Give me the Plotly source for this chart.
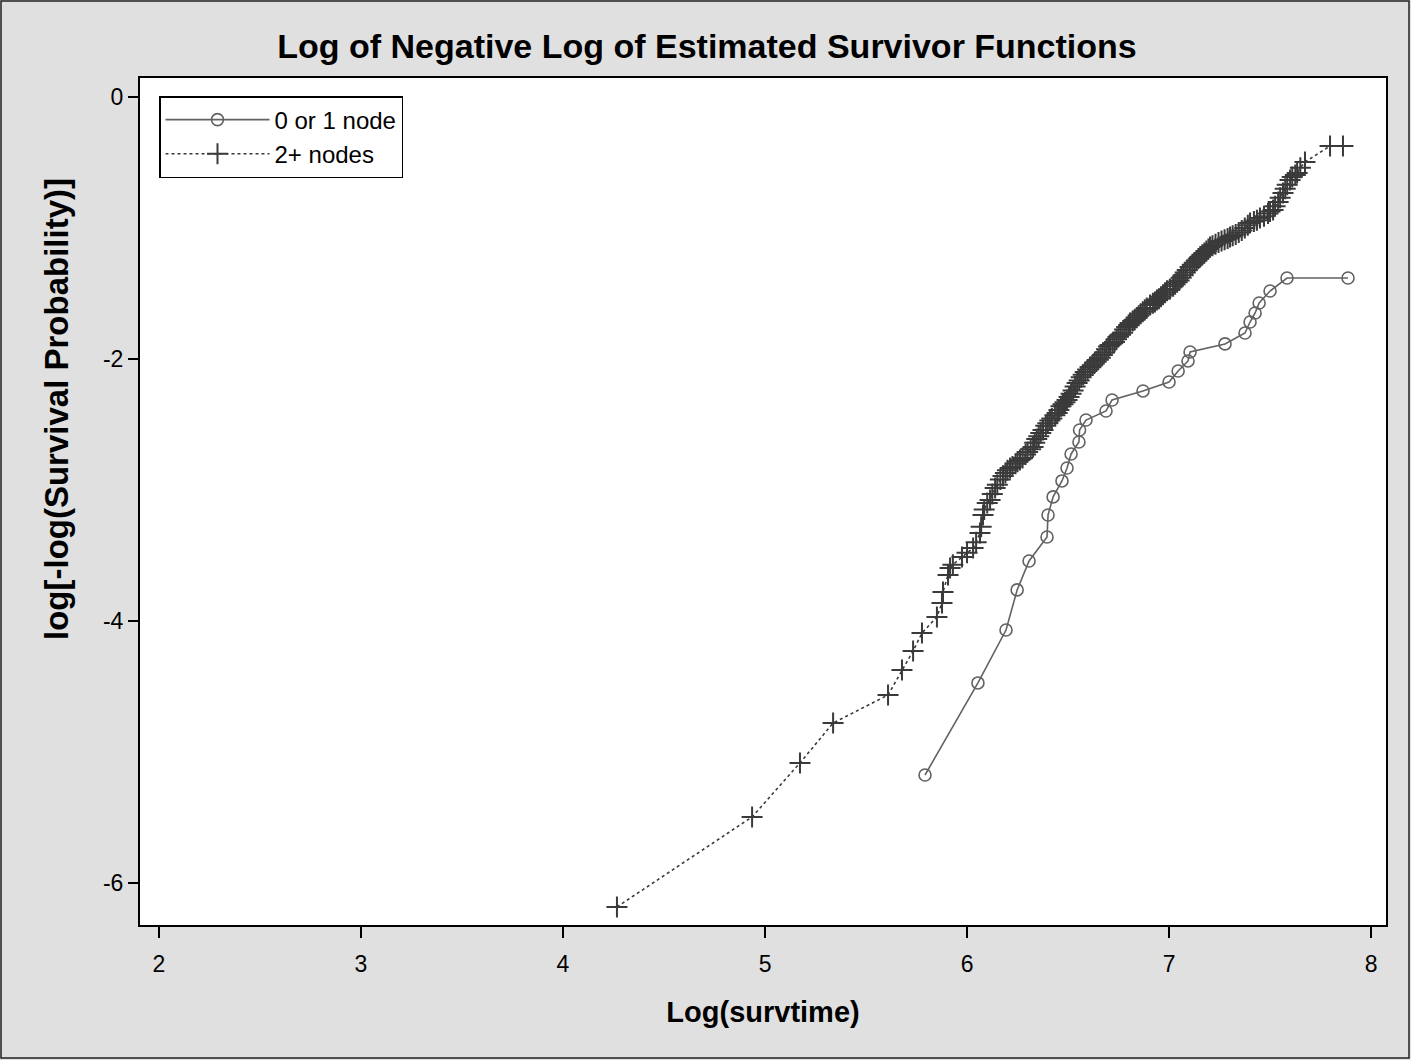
import plotly.graph_objects as go

# ---- data: 0 or 1 node (open circles, solid line)
x_low = [5.792, 6.054, 6.193, 6.248, 6.307, 6.396, 6.401, 6.426, 6.470, 6.495,
         6.515, 6.554, 6.557, 6.589, 6.688, 6.718, 6.871, 7.000, 7.045, 7.094,
         7.104, 7.277, 7.376, 7.401, 7.426, 7.446, 7.500, 7.584, 7.886]
y_low = [-5.176, -4.473, -4.069, -3.763, -3.542, -3.359, -3.191, -3.053, -2.931, -2.832,
         -2.725, -2.634, -2.542, -2.466, -2.397, -2.313, -2.244, -2.176, -2.092, -2.015,
         -1.947, -1.885, -1.802, -1.718, -1.649, -1.573, -1.481, -1.382, -1.382]

# ---- data: 2+ nodes (plus markers, dotted line)
x_high = [4.267, 4.936, 5.173, 5.337, 5.609, 5.678, 5.733, 5.777, 5.851, 5.876,
          5.881, 5.906, 5.916, 5.930, 5.975, 6.000, 6.030, 6.045, 6.064, 6.070,
          6.079, 6.085, 6.100, 6.114, 6.125, 6.139, 6.150, 6.165, 6.178, 6.190,
          6.200, 6.213, 6.225, 6.240, 6.250, 6.262, 6.275, 6.290, 6.300, 6.315,
          6.327, 6.335, 6.345, 6.355, 6.365, 6.376, 6.390, 6.400, 6.410, 6.420,
          6.435, 6.446, 6.455, 6.465, 6.475, 6.485, 6.495, 6.505, 6.515, 6.525,
          6.535, 6.545, 6.555, 6.565, 6.575, 6.585, 6.597, 6.609, 6.620, 6.630,
          6.640, 6.650, 6.660, 6.670, 6.680, 6.690, 6.700, 6.708, 6.720, 6.730,
          6.740, 6.750, 6.760, 6.770, 6.780, 6.790, 6.800, 6.807, 6.820, 6.830,
          6.840, 6.850, 6.860, 6.870, 6.880, 6.890, 6.906, 6.920, 6.930, 6.940,
          6.950, 6.960, 6.970, 6.980, 6.990, 7.005, 7.020, 7.030, 7.040, 7.050,
          7.060, 7.070, 7.080, 7.090, 7.104, 7.115, 7.125, 7.135, 7.145, 7.155,
          7.165, 7.175, 7.185, 7.195, 7.203, 7.215, 7.230, 7.245, 7.260, 7.275,
          7.290, 7.302, 7.315, 7.330, 7.345, 7.360, 7.375, 7.390, 7.401, 7.420,
          7.435, 7.450, 7.470, 7.490, 7.500, 7.515, 7.525, 7.540, 7.550, 7.564,
          7.575, 7.585, 7.599, 7.610, 7.625, 7.634, 7.650, 7.673, 7.797, 7.861]
y_high = [-6.183, -5.496, -5.084, -4.779, -4.565, -4.374, -4.229, -4.092, -3.969, -3.863,
          -3.779, -3.649, -3.595, -3.570, -3.511, -3.480, -3.443, -3.400, -3.328, -3.280,
          -3.191, -3.150, -3.100, -3.076, -3.030, -2.985, -2.960, -2.920, -2.893, -2.870,
          -2.850, -2.832, -2.820, -2.800, -2.785, -2.771, -2.755, -2.730, -2.710, -2.690,
          -2.672, -2.640, -2.610, -2.590, -2.565, -2.542, -2.510, -2.490, -2.470, -2.455,
          -2.430, -2.412, -2.390, -2.360, -2.345, -2.330, -2.313, -2.290, -2.265, -2.240,
          -2.210, -2.183, -2.165, -2.140, -2.120, -2.100, -2.080, -2.061, -2.050, -2.035,
          -2.020, -2.005, -1.990, -1.970, -1.950, -1.925, -1.905, -1.893, -1.880, -1.870,
          -1.850, -1.830, -1.815, -1.800, -1.775, -1.755, -1.740, -1.725, -1.710, -1.700,
          -1.685, -1.670, -1.655, -1.640, -1.625, -1.610, -1.588, -1.575, -1.565, -1.550,
          -1.540, -1.525, -1.510, -1.495, -1.480, -1.466, -1.445, -1.430, -1.415, -1.400,
          -1.380, -1.360, -1.340, -1.320, -1.298, -1.280, -1.265, -1.250, -1.235, -1.220,
          -1.205, -1.190, -1.175, -1.160, -1.145, -1.135, -1.125, -1.110, -1.100, -1.090,
          -1.080, -1.069, -1.060, -1.050, -1.035, -1.020, -1.000, -0.980, -0.962, -0.950,
          -0.940, -0.924, -0.910, -0.890, -0.875, -0.863, -0.835, -0.802, -0.770, -0.733,
          -0.700, -0.670, -0.634, -0.610, -0.595, -0.580, -0.540, -0.496, -0.374, -0.374]

series_names = ["0 or 1 node", "2+ nodes"]
x_ticks = [2, 3, 4, 5, 6, 7, 8]
y_ticks = [0, -2, -4, -6]

FONT = "Arial, 'Liberation Sans', sans-serif"

fig = go.Figure()
fig.add_trace(go.Scatter(
    x=x_low, y=y_low, name=series_names[0], mode="lines+markers",
    line=dict(color="#626262", width=1.6, dash="solid"),
    marker=dict(symbol="circle-open", size=12, color="#626262", line=dict(width=1.6)),
))
fig.add_trace(go.Scatter(
    x=x_high, y=y_high, name=series_names[1], mode="lines+markers",
    line=dict(color="#3a3a3a", width=1.6, dash="dot"),
    marker=dict(symbol="cross-thin-open", size=15, color="#3a3a3a", line=dict(width=2, color="#3a3a3a")),
))

plot_l, plot_r, plot_t, plot_b = 140, 1386, 78, 925
W, H = 1411, 1060
pw, ph = plot_r - plot_l, plot_b - plot_t

fig.update_layout(
    width=W, height=H,
    margin=dict(l=plot_l, r=W - plot_r, t=plot_t, b=H - plot_b, pad=0),
    paper_bgcolor="#e0e0e0", plot_bgcolor="white",
    font=dict(family=FONT, size=22, color="black"),
    title=dict(text="<b>Log of Negative Log of Estimated Survivor Functions</b>",
               x=707 / W, xanchor="center", y=1 - 46 / H, yanchor="middle",
               font=dict(size=34, family=FONT, color="black")),
    showlegend=True,
    legend=dict(x=(159 - plot_l) / pw, y=(plot_b - 96) / ph, xanchor="left", yanchor="top",
                bgcolor="white", bordercolor="black", borderwidth=1.5,
                font=dict(size=24, family=FONT, color="black"), itemwidth=104,
                tracegroupgap=0),
    xaxis=dict(range=[1.906, 8.074], tickvals=x_ticks, ticktext=[str(v) for v in x_ticks],
               showgrid=False, zeroline=False, showline=True, mirror=True,
               linecolor="black", linewidth=2, ticks="outside", ticklen=11, tickwidth=1.5,
               tickcolor="black", tickfont=dict(size=23, family=FONT), ticklabelstandoff=6,
               title=dict(text="<b>Log(survtime)</b>", font=dict(size=29, family=FONT), standoff=26)),
    yaxis=dict(range=[-6.321, 0.145], tickvals=y_ticks, ticktext=[str(v) for v in y_ticks],
               showgrid=False, zeroline=False, showline=True, mirror=True,
               linecolor="black", linewidth=2, ticks="outside", ticklen=10, tickwidth=1.5,
               tickcolor="black", tickfont=dict(size=23, family=FONT)),
    annotations=[dict(text="<b>log[-log(Survival Probability)]</b>", textangle=-90,
                      xref="paper", yref="paper", x=(56 - plot_l) / pw, y=(plot_b - 409) / ph,
                      xanchor="center", yanchor="middle", showarrow=False,
                      font=dict(size=33, family=FONT, color="black"))],
    shapes=[dict(type="rect", xref="paper", yref="paper",
                 x0=(1 - plot_l) / pw, x1=(W - 2 - plot_l) / pw,
                 y0=(plot_b - (H - 2)) / ph, y1=(plot_b - 1) / ph,
                 line=dict(color="#202020", width=1.5), fillcolor="rgba(0,0,0,0)", layer="below")],
)

fig.write_html("out.html")
